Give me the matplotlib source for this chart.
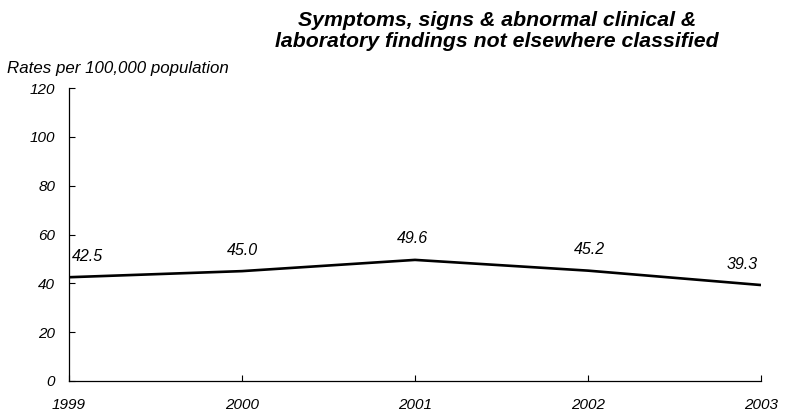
import matplotlib
matplotlib.use("Agg")
import matplotlib.pyplot as plt

years = [1999, 2000, 2001, 2002, 2003]
rates = [42.5, 45.0, 49.6, 45.2, 39.3]
yticks = [0, 20, 40, 60, 80, 100, 120]
title = "Symptoms, signs & abnormal clinical &\nlaboratory findings not elsewhere classified"
ylabel = "Rates per 100,000 population"

plt.rcParams['font.family'] = ['Liberation Sans', 'DejaVu Sans']

fig = plt.figure(figsize=(7.91, 4.18), dpi=100)
ax = fig.add_axes([69/791, 1-381/418, (761-69)/791, (381-88)/418])
ax.plot(years, rates, color='black', lw=1.9, solid_capstyle='butt')
ax.set_xlim(1999, 2003)
ax.set_ylim(0, 120)
ax.set_xticks(years)
ax.set_xticklabels([str(y) for y in years], fontstyle='italic', fontsize=11)
ax.set_yticks(yticks)
ax.set_yticklabels([str(v) for v in yticks], fontstyle='italic', fontsize=11)
ax.tick_params(direction='in', length=4, width=0.8, colors='black')
ax.tick_params(axis='y', pad=10)
ax.tick_params(axis='x', pad=12)
for s in ['top', 'right']:
    ax.spines[s].set_visible(False)
for s in ['left', 'bottom']:
    ax.spines[s].set_linewidth(0.9)

offsets_px = [18, 0, -3, 1, -19]
for x, y, dx in zip(years, rates, offsets_px):
    ax.annotate(f"{y:.1f}", (x, y), xytext=(dx*0.72, 21*0.72), textcoords='offset points',
                ha='center', va='center', fontstyle='italic', fontsize=11.5)

fig.text(497/791, 1-31/418, title, ha='center', va='center', fontsize=15.3,
         fontweight='bold', fontstyle='italic', linespacing=1.1)
fig.text(7/791, 1-68/418, ylabel, ha='left', va='center', fontsize=12.2, fontstyle='italic')

fig.savefig('out.png', dpi=100)
